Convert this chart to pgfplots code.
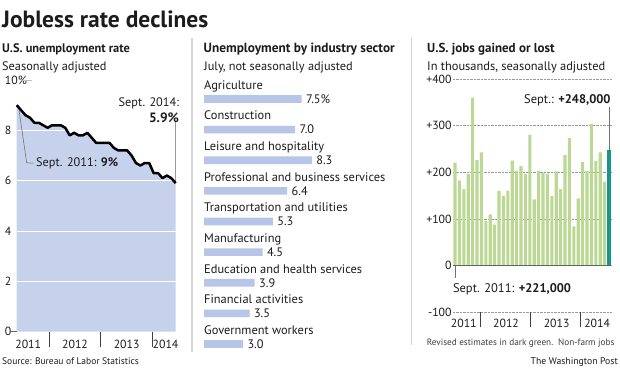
\documentclass[border=0pt]{standalone}
\usepackage{fontspec}
\setmainfont{PT Sans}
\usepackage{pgfplots}
\pgfplotsset{compat=1.18}
\definecolor{areablue}{RGB}{198,210,236}
\definecolor{barblue}{RGB}{182,197,232}
\definecolor{bargreen}{RGB}{187,217,148}
\definecolor{tealbar}{RGB}{22,150,136}
\definecolor{zerogreen}{RGB}{88,110,84}
\definecolor{sepgray}{RGB}{212,212,212}
\definecolor{txt}{RGB}{28,28,28}
\newcommand{\fs}[1]{\fontsize{#1}{#1}\selectfont}
\begin{document}
\begin{tikzpicture}[x=1pt,y=1pt]
\path[use as bounding box, fill=white] (0,0) rectangle (620,-381);
% titles
\node[anchor=base west, inner sep=0, text=txt, font=\bfseries\fs{23.5}] at (2,-27) {Jobless rate declines};
\node[anchor=base west, inner sep=0, text=txt, font=\bfseries\fs{12.4}] at (2,-52) {U.S. unemployment rate};
\node[anchor=base west, inner sep=0, text=txt, font=\fs{12.3}] at (2,-70) {Seasonally adjusted};
\node[anchor=base west, inner sep=0, text=txt, font=\bfseries\fs{13.3}] at (203.5,-52) {Unemployment by industry sector};
\node[anchor=base west, inner sep=0, text=txt, font=\fs{12.3}] at (204,-70) {July, not seasonally adjusted};
\node[anchor=base west, inner sep=0, text=txt, font=\bfseries\fs{13}] at (427,-52) {U.S. jobs gained or lost};
\node[anchor=base west, inner sep=0, text=txt, font=\fs{12.4}] at (427,-70) {In thousands, seasonally adjusted};
% separators
\draw[sepgray, line width=1.5pt] (192,-38) -- (192,-352);
\draw[sepgray, line width=1.5pt] (411.7,-38) -- (411.7,-345);
% footer
\node[anchor=base west, inner sep=0, text=txt, font=\fs{9.5}] at (2,-364) {Source: Bureau of Labor Statistics};
\node[anchor=base east, inner sep=0, text=txt, font=\fs{9.7}] at (618,-364) {The Washington Post};
\node[anchor=base west, inner sep=0, text=txt!85, font=\fs{9.2}] at (426.7,-345) {Revised estimates in dark green.\ \ Non-farm jobs};

% ---------------- Panel 1: unemployment rate
\begin{axis}[
  at={(16.7pt,-331.5pt)}, anchor=south west, scale only axis,
  width=159pt, height=251.5pt,
  xmin=0, xmax=36, ymin=0, ymax=10,
  axis line style={draw=none}, clip=false,
  tick pos=left, major tick length=0pt,
  ytick={0,2,4,6,8,10}, yticklabels={0,2,4,6,8,10\%},
  yticklabel style={anchor=west, inner sep=0pt, xshift=-12pt, font=\fs{11.8}, text=txt},
  xtick={2.6,13.2,24.9,33.7}, xticklabels={2011,2012,2013,2014},
  xticklabel style={anchor=center, inner sep=0pt, yshift=-12.8pt, font=\fs{11.8}, text=txt},
  extra x ticks={7.31,19.0,30.7}, extra x tick labels={},
  extra x tick style={major tick length=15pt, tick align=outside, tick style={draw=black!75, line width=0.9pt}},
]
\addplot[fill=areablue, draw=none] coordinates {
(0,9.0)(1,8.8)(2,8.6)(3,8.5)(4,8.3)(5,8.3)(6,8.2)(7,8.1)(8,8.2)(9,8.2)(10,8.2)(11,8.1)
(12,7.8)(13,7.9)(14,7.8)(15,7.8)(16,7.9)(17,7.7)(18,7.5)(19,7.5)(20,7.5)(21,7.5)(22,7.3)(23,7.2)
(24,7.2)(25,7.2)(26,7.0)(27,6.7)(28,6.6)(29,6.7)(30,6.7)(31,6.3)(32,6.3)(33,6.1)(34,6.2)(35,6.1)(36,5.9)
} \closedcycle;
\draw[white, line width=0.7pt] (axis cs:0,2) -- (axis cs:36,2);
\draw[white, line width=0.7pt] (axis cs:0,4) -- (axis cs:36,4);
\draw[white, line width=0.7pt] (axis cs:0,6) -- (axis cs:36,6);
\draw[white, line width=0.7pt] (axis cs:0,8) -- (axis cs:36,8);
\draw[black!25, line width=0.7pt] (axis cs:1.3,10) -- (axis cs:3.5,10);
\draw[black!60, line width=0.6pt] (axis cs:0,0) -- ++(-5.5pt,0);
\draw[black!55, line width=0.6pt] (axis cs:0.36,9.0) -- (axis cs:2.26,6.71) -- (axis cs:3.76,6.69);
\node[anchor=west, inner sep=0, text=txt, font=\fs{12.3}] at (axis cs:4.37,6.7) {Sept. 2011: \textbf{9\%}};
\draw[black!40, line width=0.6pt] (axis cs:36,8.34) -- (axis cs:36,5.9);
\node[anchor=base east, inner sep=0, text=txt, font=\fs{12.3}] at (axis cs:36.8,8.95) {Sept. 2014:};
\node[anchor=base east, inner sep=0, text=txt, font=\bfseries\fs{13.5}] at (axis cs:36.8,8.3) {5.9\%};
\addplot[black, line width=2.5pt, line join=round] coordinates {
(0,9.0)(1,8.8)(2,8.6)(3,8.5)(4,8.3)(5,8.3)(6,8.2)(7,8.1)(8,8.2)(9,8.2)(10,8.2)(11,8.1)
(12,7.8)(13,7.9)(14,7.8)(15,7.8)(16,7.9)(17,7.7)(18,7.5)(19,7.5)(20,7.5)(21,7.5)(22,7.3)(23,7.2)
(24,7.2)(25,7.2)(26,7.0)(27,6.7)(28,6.6)(29,6.7)(30,6.7)(31,6.3)(32,6.3)(33,6.1)(34,6.2)(35,6.1)(36,5.9)
};
\end{axis}

% ---------------- Panel 2: by industry
\begin{axis}[
  at={(204pt,-99pt)}, anchor=north west, scale only axis,
  width=130pt, height=245pt,
  xmin=0, xmax=10, ymin=0, ymax=8, y dir=reverse,
  axis lines=none, clip=false,
]
\addplot[xbar, bar width=7.7pt, bar shift=0pt, fill=barblue, draw=none,
  nodes near coords, point meta=explicit symbolic,
  nodes near coords style={anchor=west, inner sep=0pt, xshift=4.3pt, font=\fs{12.3}, text=txt}]
  coordinates {(7.5,0)[7.5\%] (7.0,1)[7.0] (8.3,2)[8.3] (6.4,3)[6.4] (5.3,4)[5.3] (4.5,5)[4.5] (3.9,6)[3.9] (3.5,7)[3.5] (3.0,8)[3.0]};
\node[anchor=base west, inner sep=0, text=txt, font=\fs{12.4}, yshift=9.7pt] at (axis cs:0,0) {Agriculture};
\node[anchor=base west, inner sep=0, text=txt, font=\fs{12.4}, yshift=9.7pt] at (axis cs:0,1) {Construction};
\node[anchor=base west, inner sep=0, text=txt, font=\fs{12.4}, yshift=9.7pt] at (axis cs:0,2) {Leisure and hospitality};
\node[anchor=base west, inner sep=0, text=txt, font=\fs{12.4}, yshift=9.7pt] at (axis cs:0,3) {Professional and business services};
\node[anchor=base west, inner sep=0, text=txt, font=\fs{12.4}, yshift=9.7pt] at (axis cs:0,4) {Transportation and utilities};
\node[anchor=base west, inner sep=0, text=txt, font=\fs{12.4}, yshift=9.7pt] at (axis cs:0,5) {Manufacturing};
\node[anchor=base west, inner sep=0, text=txt, font=\fs{12.4}, yshift=9.7pt] at (axis cs:0,6) {Education and health services};
\node[anchor=base west, inner sep=0, text=txt, font=\fs{12.4}, yshift=9.7pt] at (axis cs:0,7) {Financial activities};
\node[anchor=base west, inner sep=0, text=txt, font=\fs{12.4}, yshift=9.7pt] at (axis cs:0,8) {Government workers};
\end{axis}

% ---------------- Panel 3: jobs gained or lost
\begin{axis}[
  at={(452.8pt,-312.3pt)}, anchor=south west, scale only axis,
  width=158.4pt, height=233.3pt,
  xmin=-0.5, xmax=35.5, ymin=-100, ymax=400,
  axis line style={draw=none}, clip=false,
  tick pos=left, major tick length=0pt,
  ytick={-100,0,100,200,300,400}, yticklabels={-100,0,+100,+200,+300,+400},
  yticklabel style={anchor=east, inner sep=0pt, xshift=-1pt, font=\fs{11.8}, text=txt},
  ymajorgrids, grid style={black!40, densely dotted, line width=0.6pt},
  xtick={2.0,11.6,23.1,32.3}, xticklabels={2011,2012,2013,2014},
  xticklabel style={anchor=center, inner sep=0pt, yshift=-11.3pt, font=\fs{11.8}, text=txt},
  extra x ticks={5.7,17.2,28.6}, extra x tick labels={},
  extra x tick style={major tick length=15pt, tick align=outside, grid=none, tick style={draw=black!75, line width=0.9pt}},
]
\addplot[ybar, bar width=3.1pt, bar shift=0pt, fill=bargreen, draw=none] coordinates {
(0,221)(1,183)(2,164)(3,196)
(4,360)(5,226)(6,243)(7,96)(8,110)(9,88)(10,160)(11,150)(12,161)(13,225)(14,203)(15,214)
(16,196)(17,280)(18,142)(19,203)(20,199)(21,197)(22,149)(23,202)(24,164)(25,237)(26,274)(27,84)
(28,144)(29,222)(30,203)(31,304)(32,224)(33,243)(34,180)
};
\addplot[ybar, bar width=3.1pt, bar shift=0pt, fill=tealbar, draw=none] coordinates {(35,248)};
\draw[zerogreen, line width=1.5pt] (axis cs:-0.5,0) -- (axis cs:35.5,0);
\draw[black!55, line width=0.6pt] (axis cs:0,0) -- (axis cs:0,-25.7);
\node[anchor=west, inner sep=0, text=txt, font=\fs{12.5}] at (axis cs:-0.5,-51.4) {Sept. 2011: \textbf{+221,000}};
\draw[black!55, line width=0.6pt] (axis cs:35,339) -- (axis cs:35,248);
\node[anchor=east, inner sep=0, text=txt, font=\fs{12.5}] at (axis cs:35.39,353.6) {Sept.: \textbf{+248,000}};
\end{axis}
\end{tikzpicture}
\end{document}
